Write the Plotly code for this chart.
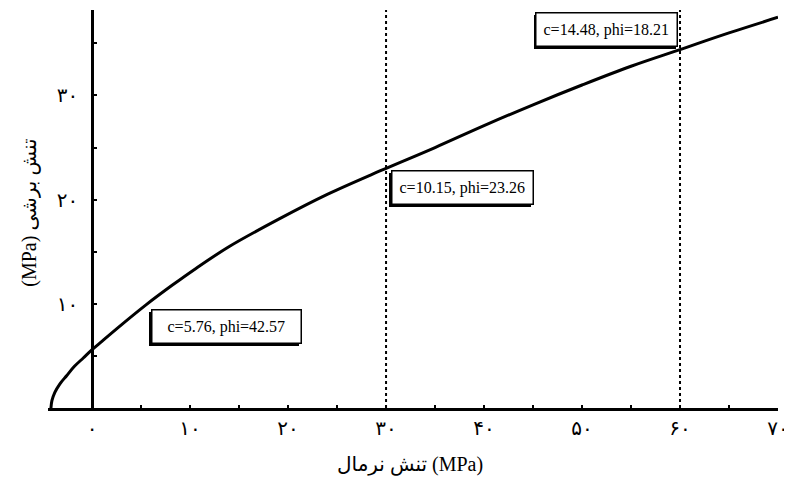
import plotly.graph_objects as go

# Envelope curve (normal stress vs shear stress)
sigma_n = [-4.2, -4.1, -3.8, -3.3, -2.6, -1.8, -0.9, 0.0, 1.0, 2.5, 5.5, 8.2, 10.6,
           14.0, 19.0, 24.0, 29.5, 35.0, 40.0, 45.0, 50.0, 55.0, 60.0, 65.0, 70.0]
tau = [0.0, 0.7, 1.5, 2.3, 3.1, 4.0, 4.8, 5.6, 6.4, 7.6, 9.9, 11.8, 13.4,
       15.5, 18.1, 20.5, 22.8, 25.0, 27.1, 29.1, 31.0, 32.8, 34.4, 36.0, 37.5]

dotted_x = [30, 60]

labels = ["c=5.76, phi=42.57", "c=10.15, phi=23.26", "c=14.48, phi=18.21"]
label_pad = [2, 0, 0]
label_x = [13.7, 37.8, 52.5]
label_y = [7.8, 21.15, 36.3]

x_tickvals = [0, 10, 20, 30, 40, 50, 60, 70]
x_ticktext = ["۰", "۱۰", "۲۰", "۳۰", "۴۰", "۵۰", "۶۰", "۷۰"]
y_tickvals = [10, 20, 30]
y_ticktext = ["۱۰", "۲۰", "۳۰"]

x_title = "تنش نرمال (MPa)"
y_title = "(MPa) تنش برشی"

xmin, xmax = -4.5, 70.0
ymin, ymax = 0.0, 38.2

FONT = "Liberation Serif, DejaVu Sans, serif"

fig = go.Figure()
fig.add_trace(go.Scatter(x=sigma_n, y=tau, mode="lines",
                         line=dict(color="black", width=3, shape="spline", smoothing=1.0),
                         hoverinfo="skip", showlegend=False))

for xv in dotted_x:
    fig.add_shape(type="line", x0=xv, x1=xv, y0=0, y1=1, xref="x", yref="paper",
                  line=dict(color="black", width=2, dash="dot"))

for t, p, xv, yv in zip(labels, label_pad, label_x, label_y):
    txt = "&nbsp;" * p + t + "&nbsp;" * p
    # shadow
    fig.add_annotation(x=xv, y=yv, text=txt, showarrow=False, xshift=-2, yshift=-2,
                       font=dict(family=FONT, size=16, color="black"),
                       bgcolor="black", bordercolor="black", borderwidth=1, borderpad=7)
    fig.add_annotation(x=xv, y=yv, text=txt, showarrow=False,
                       font=dict(family=FONT, size=16, color="black"),
                       bgcolor="white", bordercolor="black", borderwidth=1.5, borderpad=7)

# axis titles
fig.add_annotation(x=0.496, y=-0.143, xref="paper", yref="paper", text=x_title,
                   xanchor="center", yanchor="middle",
                   showarrow=False, font=dict(family=FONT, size=20, color="black"))
fig.add_annotation(x=-0.025, y=0.49, xref="paper", yref="paper", text=y_title,
                   xanchor="center", yanchor="middle",
                   textangle=-90, showarrow=False,
                   font=dict(family=FONT, size=20, color="black"))

ypos = (0 - xmin) / (xmax - xmin)

# the page body adds an 8px offset; margins compensate so the plot area lands
# at the reference position
fig.update_layout(
    width=792, height=481,
    margin=dict(l=40, r=22, t=2, b=81),
    paper_bgcolor="white", plot_bgcolor="white",
    font=dict(family=FONT, size=17, color="black"),
    xaxis=dict(range=[xmin, xmax], tickvals=x_tickvals, ticktext=x_ticktext,
               automargin=False,
               showline=True, linecolor="black", linewidth=2.5, showgrid=False,
               zeroline=False, ticks="inside", ticklen=3, tickwidth=2, tickcolor="black",
               minor=dict(tickvals=[5, 15, 25, 35, 45, 55, 65], ticks="inside",
                          ticklen=3, tickwidth=2, tickcolor="black"),
               tickfont=dict(size=20), ticklabelstandoff=0),
    yaxis=dict(range=[ymin, ymax], tickvals=y_tickvals, ticktext=y_ticktext,
               anchor="free", position=ypos, automargin=False,
               showline=True, linecolor="black", linewidth=2.5, showgrid=False,
               zeroline=False, ticks="inside", ticklen=3, tickwidth=2, tickcolor="black",
               minor=dict(tickvals=[5, 15, 25, 35], ticks="inside",
                          ticklen=3, tickwidth=2, tickcolor="black"),
               tickfont=dict(size=20), ticklabelstandoff=9),
)

fig.write_html("out.html")
